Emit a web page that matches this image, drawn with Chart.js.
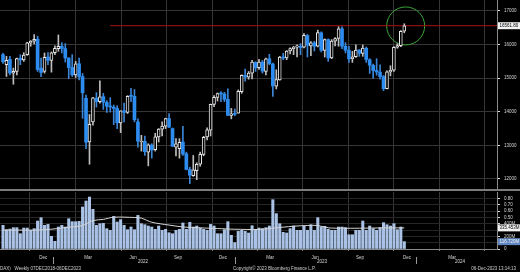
<!DOCTYPE html>
<html>
<head>
<meta charset="utf-8">
<script src="https://cdn.jsdelivr.net/npm/chart.js@4.4.0/dist/chart.umd.min.js"></script>
<style>
  html, body { margin: 0; padding: 0; background: #000; }
  #wrap { position: relative; width: 520px; height: 272px; overflow: hidden; background: #000; }
  #price { position: absolute; left: 0; top: 0; }
  #volume { position: absolute; left: 0; top: 191px; }
  #divider { position: absolute; left: 0; top: 189px; width: 520px; height: 2px; background: #7c7c7c; }
</style>
</head>
<body>
<div id="wrap">
  <canvas id="price" width="520" height="189"></canvas>
  <div id="divider"></div>
  <canvas id="volume" width="520" height="81"></canvas>
</div>
<script>
// weekly DAX candles, week 0 = 13 Sep 2021 ... week 116 = 4 Dec 2023
const opens = [15700,15400,15560,15150,15200,15590,15540,15700,16050,16100,16160,15300,15200,15630,15530,15760,15880,15950,15880,15600,
  15320,15100,15430,15050,14400,13100,13700,14400,14300,14450,14280,14160,14140,14100,13670,14030,13980,14470,14460,13700,
  13100,13120,12800,13010,12870,13250,13480,13570,13800,13500,12950,12900,13100,12750,12280,12100,12250,12440,12730,13250,
  13450,14220,14430,14540,14530,14370,13890,13940,13960,14600,15080,15030,15150,15470,15310,15480,15200,15580,15420,14760,
  14950,15630,15600,15810,15880,15920,15950,15920,16270,15960,16050,15950,16350,15830,16150,15600,16100,16180,16470,15950,
  15830,15580,15640,15840,15740,15890,15550,15380,15230,15180,15050,14690,15190,15240,15920,15970,16400];
const highs = [15740,15650,15650,15300,15600,15700,15760,16070,16120,16300,16250,15600,15750,15760,15780,15960,16285,16060,16030,15610,
  15700,15500,15600,15140,14500,13920,14430,14570,14925,14550,14330,14420,14200,14180,14030,14260,14480,14700,14660,13790,
  13300,13280,13050,13050,13360,13500,13700,13810,13950,13520,13200,13200,13570,12800,12350,12700,12480,12800,13270,13520,
  14230,14480,14560,14600,14580,14680,14100,14080,14650,15100,15270,15200,15530,15490,15560,15530,15600,15710,15450,15250,
  15650,15740,15820,15900,15950,15990,16030,16330,16300,16090,16100,16430,16380,16170,16170,16150,16210,16530,16530,16060,
  15950,15800,15990,15850,15990,15930,15580,15420,15580,15400,15080,15220,15370,15940,16030,16420,16620];
const lows = [15440,15050,15100,14820,15100,15400,15500,15680,15950,16020,15200,15045,15150,15400,15180,15700,15800,15750,15480,14990,
  15050,15020,14950,13807,12900,12439,13600,14140,14260,14070,13980,13990,13620,13500,13380,13700,13950,14300,13700,12945,
  12830,12700,12391,12620,12830,13100,13280,13500,13530,12970,12690,12620,12700,12270,11862,12080,11980,12380,12690,13160,
  13280,14150,14320,14300,14300,13890,13790,13880,13960,14550,14910,14970,14980,15200,15260,15150,15100,15400,14458,14680,
  14940,15550,15550,15720,15700,15630,15700,15900,15630,15670,15810,15930,15780,15630,15500,15580,15960,15950,15880,15750,
  15470,15470,15620,15650,15650,15470,15140,15000,15090,14970,14630,14680,15070,15200,15890,15940,16350];
const closes = [15490,15532,15156,15206,15587,15543,15689,16054,16094,16160,15257,15169,15623,15531,15756,15885,15947,15883,15603,15318,
  15099,15425,15042,14567,13094,13628,14413,14305,14446,14284,14164,14142,14098,13674,14027,13982,14462,14460,13762,13126,
  13118,12813,13015,12865,13254,13484,13574,13795,13544,12972,13050,13088,12741,12284,12114,12273,12438,12731,13243,13460,
  14224,14431,14541,14529,14370,13893,13940,13924,14610,15087,15033,15150,15476,15308,15482,15210,15578,15428,14768,14957,
  15629,15598,15808,15882,15922,15961,15914,16275,15983,16051,15950,16358,15830,16148,15603,16106,16177,16469,15952,15832,
  15575,15632,15840,15740,15894,15557,15387,15229,15186,15045,14687,15189,15234,15919,15967,16398,16561.8];

// weekly volume, millions
const volumes = [376,307,317,339,339,243,333,333,296,323,444,497,376,391,201,122,349,376,349,481,
  434,434,439,667,762,825,630,376,402,407,323,296,518,428,466,376,307,349,307,534,
  402,386,365,349,312,365,296,312,259,243,296,312,413,312,423,349,365,333,312,296,
  391,365,243,243,307,434,217,101,280,296,280,254,370,296,333,323,339,365,783,561,
  402,265,254,323,365,296,296,360,296,386,296,497,349,360,312,296,296,349,349,339,
  227,227,296,296,444,296,365,323,296,339,418,386,365,402,307,349,117];

// volume average line
const maWeeks = [0,6,12,19,23,26,29,32,38,40,43,48,52,57,62,67,74,78,84,88,91,94,98,103,110,116];
const maValues = [300,300,305,346,373,452,470,505,500,490,425,380,350,336,325,314,310,330,362,373,373,336,330,330,335,335];

// axis ticks (in week units / price / volume)
const quarterGrid = [14.4,27.6,40.7,53.9,67.0,80.1,93.2,106.3,119.5,132.6];
const yearSeps = [14.4,67.0,119.5];
const monthTicks = [11.6,24.6,37.6,50.6,63.6,77.2,90.2,103.2,116.8,129.8];
const monthLabels = ['Dec','Mar','Jun','Sep','Dec','Mar','Jun','Sep','Dec','Mar'];
const yearTicks = [40.5,92.2,132.1];
const yearLabels = ['2022','2023','2024'];
const priceTicks = [12000,13000,14000,15000,16000,17000];
const volTicks = [0,100,200,300,400,500,600,700,800];
const volLabels = ['0','100M','200M','300M','400M','0.50','0.60','0.70','0.80'];

const lastPrice = 16561.80;
const lineFromWeek = 31;
const lastVolAvg = 335.453;
const lastVol = 116.72;

const xMin = -0.87, xMax = 142.8;
const FONT = 'Liberation Sans';
const BLUE = '#2d8cf0';
const GRID = '#363636';
const TXT = '#d6d6d6';

const up = i => closes[i] >= opens[i];

const boxes = (scaleId, items) => ({
  id: 'boxes',
  afterDraw(chart) {
    const ctx = chart.ctx, sc = chart.scales[scaleId], left = chart.chartArea.right + 1;
    ctx.save();
    ctx.font = '4.5px "' + FONT + '"';
    ctx.textBaseline = 'middle';
    items.forEach(b => {
      const py = sc.getPixelForValue(b.value);
      ctx.fillStyle = b.bg;
      ctx.fillRect(left, py - 3.5, chart.width - left, 7);
      ctx.fillStyle = b.fg;
      ctx.fillText(b.text, left + 1.5, py + 0.3);
    });
    ctx.restore();
  }
});

new Chart(document.getElementById('price'), {
  type: 'bar',
  data: {
    datasets: [
      {
        data: closes.map((c, i) => ({ x: i, y: [opens[i], c] })),
        barThickness: 3,
        grouped: false,
        minBarLength: 1,
        borderSkipped: false,
        backgroundColor: ctx => (up(ctx.dataIndex) ? '#000' : BLUE),
        borderColor: ctx => (up(ctx.dataIndex) ? '#e8e8e8' : BLUE),
        borderWidth: ctx => (up(ctx.dataIndex) ? 1 : 0),
      },
      {
        data: highs.map((h, i) => ({ x: i, y: [lows[i], h] })),
        barThickness: 1,
        grouped: false,
        backgroundColor: ctx => (up(ctx.dataIndex) ? '#bdbdbd' : '#3b86d6'),
      },
      {
        type: 'line',
        data: [{ x: lineFromWeek, y: lastPrice }, { x: xMax, y: lastPrice }],
        borderColor: '#a81414',
        borderWidth: 1,
        pointRadius: 0,
      },
      {
        type: 'bubble',
        data: [{ x: 116.4, y: 16555, r: 19 }],
        borderColor: '#3aa63a',
        borderWidth: 1,
        backgroundColor: 'rgba(0,0,0,0)',
        clip: false,
      },
    ],
  },
  options: {
    responsive: false,
    animation: false,
    events: [],
    layout: { padding: 0, autoPadding: false },
    plugins: { legend: { display: false }, tooltip: { enabled: false } },
    scales: {
      x: {
        type: 'linear', min: xMin, max: xMax, offset: false,
        afterBuildTicks: s => { s.ticks = quarterGrid.map(v => ({ value: v })); },
        ticks: { display: false },
        grid: { color: GRID, drawTicks: false },
        border: { display: false },
        afterFit: s => { s.height = 0; },
      },
      y: {
        position: 'right', min: 11702, max: 17327,
        afterBuildTicks: s => { s.ticks = priceTicks.map(v => ({ value: v })); },
        ticks: { color: TXT, font: { size: 4.5, family: FONT }, padding: 4, callback: v => String(v) },
        grid: { color: GRID, tickColor: '#e0e0e0', tickLength: 3 },
        border: { color: '#8a8a8a' },
        afterFit: s => { s.width = 23; s.paddingTop = 0; s.paddingBottom = 0; },
      },
    },
  },
  plugins: [boxes('y', [{ value: lastPrice, text: '16561.80', bg: '#f2f2f2', fg: '#000' }])],
});

// month / year labels, year separators and footer, placed through the x scale
const extras = {
  id: 'extras',
  afterDraw(chart) {
    const ctx = chart.ctx, xs = chart.scales.x, bottom = chart.chartArea.bottom;
    ctx.save();
    ctx.strokeStyle = '#9a9a9a';
    ctx.lineWidth = 1;
    yearSeps.forEach(s => {
      const px = Math.round(xs.getPixelForValue(s)) + 0.5;
      ctx.beginPath();
      ctx.moveTo(px, bottom + 8);
      ctx.lineTo(px, bottom + 15);
      ctx.stroke();
    });
    ctx.font = '4.5px "' + FONT + '"';
    ctx.textBaseline = 'middle';
    ctx.textAlign = 'center';
    ctx.fillStyle = TXT;
    monthTicks.forEach((t, i) => ctx.fillText(monthLabels[i], xs.getPixelForValue(t), bottom + 8.5));
    yearTicks.forEach((t, i) => ctx.fillText(yearLabels[i], xs.getPixelForValue(t), bottom + 12.8));
    ctx.fillStyle = '#cfcfcf';
    const fy = chart.height - 3;
    ctx.textAlign = 'left';
    ctx.fillText('DAX)   Weekly 07DEC2018-06DEC2023', 0, fy);
    ctx.fillText('Copyright\u00A9 2023 Bloomberg Finance L.P.', 233, fy);
    ctx.textAlign = 'right';
    ctx.fillText('06-Dec-2023 13:14:13', 516, fy);
    ctx.restore();
  }
};

new Chart(document.getElementById('volume'), {
  type: 'bar',
  data: {
    datasets: [
      {
        type: 'line',
        data: maWeeks.map((w, k) => ({ x: w, y: maValues[k] })),
        borderColor: '#d4d4d4',
        borderWidth: 1,
        pointRadius: 0,
        tension: 0.3,
      },
      {
        data: volumes.map((v, i) => ({ x: i, y: v })),
        barThickness: 2.4,
        grouped: false,
        backgroundColor: '#a9c2e6',
      },
    ],
  },
  options: {
    responsive: false,
    animation: false,
    events: [],
    layout: { padding: { top: 1, bottom: 23, left: 0, right: 0 }, autoPadding: false },
    plugins: { legend: { display: false }, tooltip: { enabled: false } },
    scales: {
      x: {
        type: 'linear', min: xMin, max: xMax, offset: false,
        afterBuildTicks: s => { s.ticks = quarterGrid.map(v => ({ value: v })); },
        ticks: { display: false },
        grid: { color: GRID, tickColor: '#777', tickLength: 2 },
        border: { color: '#8a8a8a' },
        afterFit: s => { s.height = 0; },
      },
      y: {
        position: 'right', min: 0, max: 905,
        afterBuildTicks: s => { s.ticks = volTicks.map(v => ({ value: v })); },
        ticks: { color: TXT, font: { size: 4.5, family: FONT }, padding: 4, autoSkip: false,
          callback: v => volLabels[volTicks.indexOf(v)] },
        grid: { color: '#262626', tickColor: '#e0e0e0', tickLength: 3 },
        border: { color: '#8a8a8a' },
        afterFit: s => { s.width = 23; s.paddingTop = 0; s.paddingBottom = 0; },
      },
    },
  },
  plugins: [
    extras,
    boxes('y', [
      { value: lastVolAvg, text: '335.453M', bg: '#f2f2f2', fg: '#000' },
      { value: lastVol, text: '116.720M', bg: '#5f86c0', fg: '#f4f4f4' },
    ]),
  ],
});
</script>
</body>
</html>
